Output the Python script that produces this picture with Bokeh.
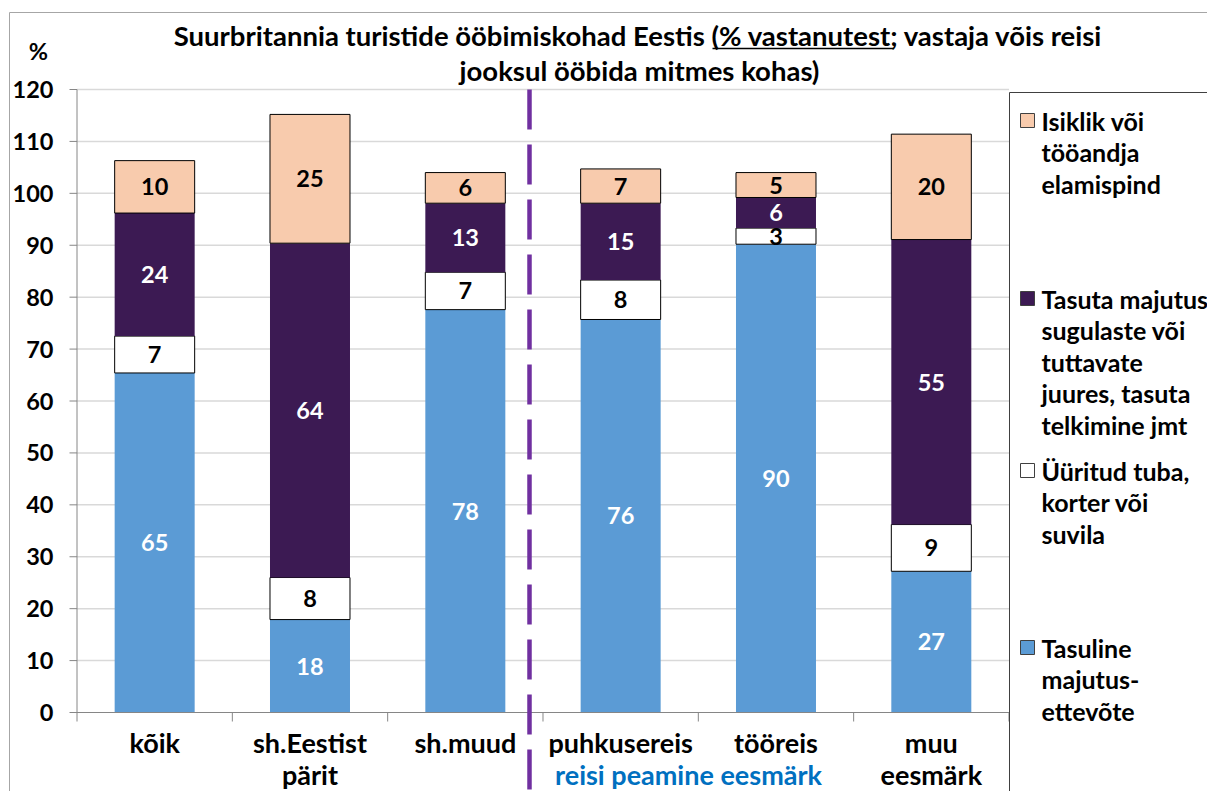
from bokeh.plotting import figure
from bokeh.models import Range1d, ColumnDataSource
from bokeh.core.properties import value
from bokeh.embed import file_html
from bokeh.resources import INLINE
import numpy as np

# ---------------- data ----------------
categories = ["kõik", "sh.Eestist\npärit", "sh.muud", "puhkusereis", "tööreis", "muu\neesmärk"]
series_names = [
    "Tasuline\nmajutus-\nettevõte",
    "Üüritud tuba,\nkorter või\nsuvila",
    "Tasuta majutus\nsugulaste või\ntuttavate\njuures, tasuta\ntelkimine jmt",
    "Isiklik või\ntööandja\nelamispind",
]
tasuline = [65.4, 17.9, 77.6, 75.7, 90.2, 27.2]
uuritud = [7.1, 8.1, 7.2, 7.6, 3.1, 9.0]
tasuta = [23.7, 64.4, 13.3, 14.8, 5.9, 54.9]
isiklik = [10.1, 24.8, 5.9, 6.6, 4.8, 20.3]
y_ticks = [0, 10, 20, 30, 40, 50, 60, 70, 80, 90, 100, 110, 120]
y_unit = "%"
title_lines = ["Suurbritannia turistide ööbimiskohad Eestis (% vastanutest; vastaja võis reisi",
               "jooksul ööbida mitmes kohas)"]
group_label = "reisi peamine eesmärk"

fill_colors = ["#5B9BD5", "#FFFFFF", "#3C1A53", "#F8CBAD"]
line_colors = [None, "#000000", None, "#000000"]
text_colors = ["#FFFFFF", "#000000", "#FFFFFF", "#000000"]

# ---------------- layout geometry (picture pixels) ----------------
CW, CH = 1207, 791
W = 155.33            # px per category
H = 623 / 120.0       # px per y unit
X0, Y0 = 76.5, 712    # px of data origin


def X(px):
    return (px - X0) / W


def Y(py):
    return (Y0 - py) / H


FONT = value("Lato")
BOLD = dict(text_font=FONT, text_font_style="bold")

p = figure(width=CW, height=CH, x_range=Range1d(X(0), X(CW)), y_range=Range1d(Y(CH), Y(0)),
           output_backend="svg", toolbar_location=None, x_axis_location=None, y_axis_location=None,
           min_border_left=0, min_border_right=0, min_border_top=0, min_border_bottom=0)
p.grid.visible = False
p.outline_line_color = None
p.background_fill_color = "white"
p.border_fill_color = "white"

n = len(categories)
xs = [i + 0.5 for i in range(n)]

# chart border
p.segment(x0=X(9), y0=Y(12), x1=X(CW + 5), y1=Y(12), line_color="#A6A6A6", line_width=1)
p.segment(x0=X(9), y0=Y(12), x1=X(9), y1=Y(CH + 5), line_color="#A6A6A6", line_width=1)

# grid lines
p.segment(x0=0, x1=n, y0=y_ticks[1:], y1=y_ticks[1:], line_color="#D9D9D9", line_width=1.5)

# stacked bars
keys = ["tasuline", "uuritud", "tasuta", "isiklik"]
src = ColumnDataSource(dict(x=xs, tasuline=tasuline, uuritud=uuritud, tasuta=tasuta, isiklik=isiklik))
p.vbar_stack(keys, x="x", width=80 / W, source=src, fill_color=fill_colors,
             line_color=line_colors, line_width=1)

# bar value labels
vals = np.array([tasuline, uuritud, tasuta, isiklik])
tops = np.cumsum(vals, axis=0)
bots = tops - vals
lx, ly, lt, lc = [], [], [], []
for s in range(vals.shape[0]):
    for i in range(n):
        lx.append(xs[i])
        ly.append((tops[s, i] + bots[s, i]) / 2)
        lt.append(f"{vals[s, i]:.0f}")
        lc.append(text_colors[s])
p.text(x=lx, y=ly, text=lt, text_color=lc, text_align="center", text_baseline="middle",
       text_font_size="23.5px", **BOLD)

# y axis: line, ticks, labels
p.segment(x0=0, y0=0, x1=0, y1=y_ticks[-1], line_color="#868686", line_width=1)
p.segment(x0=X(69), y0=y_ticks, x1=0, y1=y_ticks, line_color="#868686", line_width=1)
p.text(x=X(53), y=y_ticks, text=[str(t) for t in y_ticks], text_align="right",
       text_baseline="middle", text_font_size="23.5px", text_color="#000000", **BOLD)
p.text(x=[X(38)], y=[Y(50)], text=[y_unit], text_align="center", text_baseline="middle",
       text_font_size="23.5px", text_color="#000000", **BOLD)

# x axis line and category ticks
p.segment(x0=0, y0=0, x1=n, y1=0, line_color="#868686", line_width=1)
p.segment(x0=list(range(n + 1)), y0=0, x1=list(range(n + 1)), y1=-9 / H,
          line_color="#868686", line_width=1)

# category labels
l1 = [c.split("\n")[0] for c in categories]
l2x = [xs[i] for i, c in enumerate(categories) if "\n" in c]
l2 = [c.split("\n")[1] for c in categories if "\n" in c]
p.text(x=xs, y=Y(742), text=l1, text_align="center", text_baseline="middle",
       text_font_size="27px", text_color="#000000", **BOLD)
p.text(x=l2x, y=Y(774), text=l2, text_align="center", text_baseline="middle",
       text_font_size="27px", text_color="#000000", **BOLD)
p.text(x=[X(688)], y=[Y(774)], text=[group_label], text_align="center", text_baseline="middle",
       text_font_size="27px", text_color="#0070C0", **BOLD)

# dashed separator
p.segment(x0=X(529), y0=y_ticks[-1], x1=X(529), y1=Y(CH + 5), line_color="#7030A0",
          line_width=4.5, line_dash="40 15")

# title
p.text(x=[X(638)], y=[Y(35)], text=[title_lines[0]], text_align="center", text_baseline="middle",
       text_font_size="27.5px", text_color="#000000", **BOLD)
p.text(x=[X(639)], y=[Y(70)], text=[title_lines[1]], text_align="center", text_baseline="middle",
       text_font_size="27.5px", text_color="#000000", **BOLD)
p.segment(x0=X(712), y0=Y(48), x1=X(893), y1=Y(48), line_color="#000000", line_width=1.5)

# legend
p.quad(left=X(1009), right=X(CW + 10), top=Y(92), bottom=Y(CH + 10), fill_color=None,
       line_color="#404040", line_width=1)
leg_order = [3, 2, 1, 0]
leg_first = [120, 298, 470, 647]
p.scatter(x=X(1027), y=[Y(v) for v in leg_first], marker="square", size=14,
          fill_color=[fill_colors[k] for k in leg_order], line_color="#404040", line_width=1)
tx, ty, tt = [], [], []
for k, y0 in zip(leg_order, leg_first):
    for j, line in enumerate(series_names[k].split("\n")):
        tx.append(X(1041))
        ty.append(Y(y0 + j * 31.5))
        tt.append(line)
p.text(x=tx, y=ty, text=tt, text_align="left", text_baseline="middle",
       text_font_size="25px", text_color="#000000", **BOLD)

open("out.html", "w").write(file_html(p, INLINE))
